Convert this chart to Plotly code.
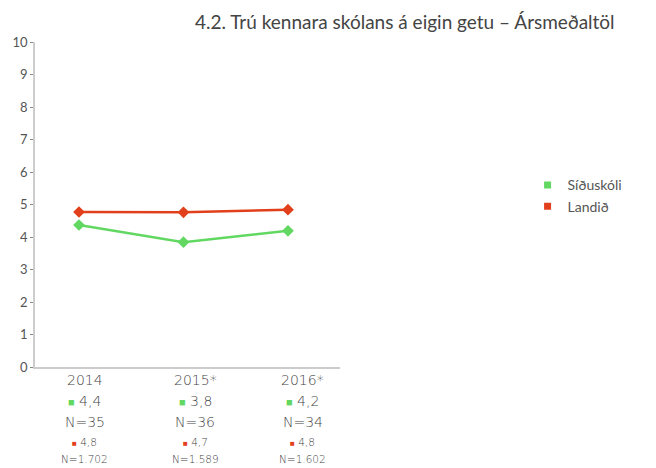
import plotly.graph_objects as go

categories = ["2014", "2015*", "2016*"]
school_name = "Síðuskóli"
country_name = "Landið"
school_values = [4.37, 3.84, 4.19]
country_values = [4.77, 4.76, 4.84]
school_labels = ["4,4", "3,8", "4,2"]
school_n = ["N=35", "N=36", "N=34"]
country_labels = ["4,8", "4,7", "4,8"]
country_n = ["N=1.702", "N=1.589", "N=1.602"]
y_ticks = list(range(0, 11))

GREEN = "#62d862"
RED = "#e2401c"
TXT = "#555555"
FONT = "Lato"
LBL_FONT = "DejaVu Sans"

xs = list(range(len(categories)))
fig = go.Figure()
fig.add_trace(go.Scatter(x=xs, y=country_values, mode="lines+markers",
                         line=dict(color=RED, width=2.5),
                         marker=dict(symbol="diamond", size=9, color=RED),
                         showlegend=False, hoverinfo="skip"))
fig.add_trace(go.Scatter(x=xs, y=school_values, mode="lines+markers",
                         line=dict(color=GREEN, width=2.5),
                         marker=dict(symbol="diamond", size=9, color=GREEN),
                         showlegend=False, hoverinfo="skip"))
fig.add_trace(go.Scatter(x=[None], y=[None], mode="markers", name=school_name,
                         marker=dict(symbol="square", size=7, color=GREEN)))
fig.add_trace(go.Scatter(x=[None], y=[None], mode="markers", name=country_name,
                         marker=dict(symbol="square", size=7, color=RED)))

xshifts = [6, 12, 15]
annotations = []
for i, cat in enumerate(categories):
    rows = [
        (cat, 14, -13),
        (f'<span style="color:{GREEN};font-size:11px">■</span> {school_labels[i]}', 14, -34),
        (school_n[i], 14, -55),
        (f'<span style="color:{RED};font-size:8px">■</span> {country_labels[i]}', 10.5, -75),
        (country_n[i], 10.5, -92),
    ]
    for text, size, ys in rows:
        annotations.append(dict(x=i, y=0, xref="x", yref="paper", text=text,
                                showarrow=False, xanchor="center", yanchor="middle",
                                xshift=xshifts[i], yshift=ys,
                                font=dict(family=LBL_FONT, size=size, color="#444444",
                                          weight=300)))

fig.update_layout(
    width=656, height=468,
    margin=dict(l=35, r=316, t=42, b=101),
    paper_bgcolor="white", plot_bgcolor="white",
    font=dict(family=FONT, color=TXT),
    title=dict(text="4.2. Trú kennara skólans á eigin getu – Ársmeðaltöl",
               x=0.617, xanchor="center", y=0.953, yanchor="middle",
               font=dict(family=FONT, size=19, color="#444444")),
    xaxis=dict(range=[-0.421, 2.498], showticklabels=False, showgrid=False,
               zeroline=False, showline=True, linecolor="#cccccc", linewidth=1.5,
               ticks=""),
    yaxis=dict(range=[0, 10], tickvals=y_ticks, showgrid=False, zeroline=False,
               showline=True, linecolor="#cccccc", linewidth=1.5,
               ticks="outside", ticklen=3, tickcolor="#888888",
               tickfont=dict(family=FONT, size=13, color=TXT)),
    legend=dict(x=1.615, y=0.608, xanchor="left", yanchor="top",
                font=dict(family=FONT, size=14, color=TXT),
                itemwidth=30, tracegroupgap=2, bgcolor="rgba(0,0,0,0)"),
    annotations=annotations,
)
fig.write_html("out.html", post_script="document.body.style.margin='0';",
               config={"displayModeBar": False})
